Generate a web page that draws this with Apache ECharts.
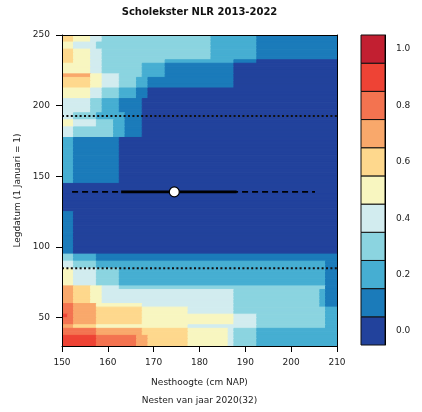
<!DOCTYPE html>
<html><head><meta charset="utf-8">
<script src="https://cdn.jsdelivr.net/npm/echarts@6/dist/echarts.min.js"></script>
<style>html,body{margin:0;padding:0;background:#fff}#c{width:422px;height:412px}</style>
</head><body><div id="c"></div>
<script>
// ---- data ----
const levelLabels = ['0.0','0.1','0.2','0.3','0.4','0.5','0.6','0.7','0.8','0.9','1.0'];
const levelColors = ['#22429c','#1b7bba','#46aed2','#8bd4e0','#d2ecef','#f8f6c0','#fed88d','#f9a86b','#f37350','#ee4335','#c21f31'];
const heightTicks = [150,160,170,180,190,200,210];
const dateTicks = [50,100,150,200,250];
const heightMin = 150, heightMax = 210, dateMin = 30, dateMax = 250;
const cellW = 1.25, cellH = 2.5;
// grid of probability levels (0..9, A=10); row 0 = dates 247.5-250, columns from 150 cm in steps of 1.25 cm
const rows = [
"66555443 33333333 33333333 33222222 22111111 11111111",
"66555443 33333333 33333333 33222222 22111111 11111111",
"55444433 33333333 33333333 33222222 22111111 11111111",
"55444433 33333333 33333333 33222222 22111111 11111111",
"66555443 33333333 33333333 33222222 22111111 11111111",
"66555443 33333333 33333333 33222222 22111111 11111111",
"66555443 33333333 33333333 33222222 22111111 11111111",
"66555443 33333333 33222222 22222211 11000000 00000000",
"55555443 33333322 22111111 11111100 00000000 00000000",
"55555443 33333322 22111111 11111100 00000000 00000000",
"55555443 33333322 22111111 11111100 00000000 00000000",
"77777554 44333322 22111111 11111100 00000000 00000000",
"66666554 44333221 11111111 11111100 00000000 00000000",
"66666554 44333221 11111111 11111100 00000000 00000000",
"66666554 44333221 11111111 11111100 00000000 00000000",
"55555443 33222110 00000000 00000000 00000000 00000000",
"55555443 33222110 00000000 00000000 00000000 00000000",
"55555443 33222110 00000000 00000000 00000000 00000000",
"44444332 22111100 00000000 00000000 00000000 00000000",
"44444332 22111100 00000000 00000000 00000000 00000000",
"44444332 22111100 00000000 00000000 00000000 00000000",
"44444332 22111100 00000000 00000000 00000000 00000000",
"44333322 22211100 00000000 00000000 00000000 00000000",
"44333322 22211100 00000000 00000000 00000000 00000000",
"55444433 32211100 00000000 00000000 00000000 00000000",
"55444433 32211100 00000000 00000000 00000000 00000000",
"44333333 32211100 00000000 00000000 00000000 00000000",
"44333333 32211100 00000000 00000000 00000000 00000000",
"44333333 32211100 00000000 00000000 00000000 00000000",
"22111111 11000000 00000000 00000000 00000000 00000000",
"22111111 11000000 00000000 00000000 00000000 00000000",
"22111111 11000000 00000000 00000000 00000000 00000000",
"22111111 11000000 00000000 00000000 00000000 00000000",
"22111111 11000000 00000000 00000000 00000000 00000000",
"22111111 11000000 00000000 00000000 00000000 00000000",
"22111111 11000000 00000000 00000000 00000000 00000000",
"22111111 11000000 00000000 00000000 00000000 00000000",
"22111111 11000000 00000000 00000000 00000000 00000000",
"22111111 11000000 00000000 00000000 00000000 00000000",
"22111111 11000000 00000000 00000000 00000000 00000000",
"22111111 11000000 00000000 00000000 00000000 00000000",
"22111111 11000000 00000000 00000000 00000000 00000000",
"00000000 00000000 00000000 00000000 00000000 00000000",
"00000000 00000000 00000000 00000000 00000000 00000000",
"00000000 00000000 00000000 00000000 00000000 00000000",
"00000000 00000000 00000000 00000000 00000000 00000000",
"00000000 00000000 00000000 00000000 00000000 00000000",
"00000000 00000000 00000000 00000000 00000000 00000000",
"00000000 00000000 00000000 00000000 00000000 00000000",
"00000000 00000000 00000000 00000000 00000000 00000000",
"11000000 00000000 00000000 00000000 00000000 00000000",
"11000000 00000000 00000000 00000000 00000000 00000000",
"11000000 00000000 00000000 00000000 00000000 00000000",
"11000000 00000000 00000000 00000000 00000000 00000000",
"11000000 00000000 00000000 00000000 00000000 00000000",
"11000000 00000000 00000000 00000000 00000000 00000000",
"11000000 00000000 00000000 00000000 00000000 00000000",
"11000000 00000000 00000000 00000000 00000000 00000000",
"11000000 00000000 00000000 00000000 00000000 00000000",
"11000000 00000000 00000000 00000000 00000000 00000000",
"11000000 00000000 00000000 00000000 00000000 00000000",
"11000000 00000000 00000000 00000000 00000000 00000000",
"33222211 11111111 11111111 11111111 11111111 11111111",
"33222211 11111111 11111111 11111111 11111111 11111111",
"44333322 22222222 22222222 22222222 22222222 22222211",
"44333322 22222222 22222222 22222222 22222222 22222211",
"55444433 33222222 22222222 22222222 22222222 22222211",
"55444433 33222222 22222222 22222222 22222222 22222211",
"55444433 33222222 22222222 22222222 22222222 22222211",
"55444433 33222222 22222222 22222222 22222222 22222211",
"55444433 33222222 22222222 22222222 22222222 22222211",
"77666554 44333333 33333333 33333333 33333333 33333311",
"77666554 44444444 44444444 44444433 33333333 33333211",
"77666554 44444444 44444444 44444433 33333333 33333211",
"77666554 44444444 44444444 44444433 33333333 33333211",
"77666554 44444444 44444444 44444433 33333333 33333211",
"88777755 55555544 44444444 44444433 33333333 33333211",
"88777766 66666655 55555544 44444433 33333333 33333322",
"88777766 66666655 55555544 44444433 33333333 33333322",
"98777766 66666655 55555555 55555544 44333333 33333322",
"88777766 66666655 55555555 55555544 44333333 33333322",
"88777766 66666655 55555555 55555544 44333333 33333322",
"77666655 55555555 55555544 44444444 44333333 33333322",
"88888877 77777766 66666655 55555433 33222222 22222222",
"88888877 77777766 66666655 55555433 33222222 22222222",
"99999988 88888776 66666655 55555433 33222222 22222222",
"99999988 88888776 66666655 55555433 33222222 22222222",
"99999988 88888776 66666655 55555433 33222222 22222222"
];
const layingDateLimits = [192.7, 85];   // dotted lines
const meanDate = 139;
const meanHeight = 174.5;
const sdHeightRange = [162.9, 188.1];   // solid
const fullHeightRange = [152.2, 205.2]; // dashed

// ---- build cells (runs of equal level within a row are merged) ----
const cells = [];
rows.forEach((r, j) => {
  const s = r.replace(/ /g, '');
  let i = 0;
  while (i < s.length) {
    let k = i;
    while (k + 1 < s.length && s[k + 1] === s[i]) k++;
    cells.push([heightMin + i * cellW, dateMax - (j + 1) * cellH, parseInt(s[i], 16), k - i + 1]);
    i = k + 1;
  }
});
const cbData = levelLabels.map((l, k) => [0, k, k]);

const FONT = 'DejaVu Sans';
const txt = { fontFamily: FONT, fontSize: 9, color: '#222' };

const chart = echarts.init(document.getElementById('c'), null, { width: 422, height: 412 });
chart.setOption({
  animation: false,
  backgroundColor: '#fff',
  title: [
    { text: 'Scholekster NLR 2013-2022', left: 199.5, top: 7, padding: 0, textAlign: 'center',
      textStyle: { fontFamily: FONT, fontSize: 10, fontWeight: 'bold', color: '#111' } },
    { text: 'Nesten van jaar 2020(32)', left: 199.5, top: 396, padding: 0, textAlign: 'center',
      textStyle: { fontFamily: FONT, fontSize: 9, fontWeight: 'normal', color: '#222' } }
  ],
  grid: [
    { left: 62, top: 35, width: 275, height: 311 },
    { left: 361, top: 35, width: 24, height: 310 }
  ],
  xAxis: [
    { type: 'value', gridIndex: 0, min: heightMin, max: heightMax, interval: 10, z: 10,
      name: 'Nesthoogte (cm NAP)', nameLocation: 'middle', nameGap: 32, nameTextStyle: txt,
      axisLine: { lineStyle: { color: '#000', width: 1 } },
      axisTick: { length: 6, lineStyle: { color: '#000' } },
      axisLabel: Object.assign({ margin: 12 }, txt), splitLine: { show: false } },
    { type: 'value', gridIndex: 0, position: 'top', min: heightMin, max: heightMax, z: 10,
      axisLine: { onZero: false, lineStyle: { color: '#000', width: 1 } }, axisTick: { show: false },
      axisLabel: { show: false }, splitLine: { show: false } },
    { type: 'category', gridIndex: 1, data: ['cb'], show: false }
  ],
  yAxis: [
    { type: 'value', gridIndex: 0, min: dateMin, max: dateMax, z: 10,
      name: 'Legdatum (1 Januari = 1)', nameLocation: 'middle', nameGap: 34, nameTextStyle: txt,
      axisLine: { lineStyle: { color: '#000', width: 1 } },
      axisTick: { length: 6, customValues: dateTicks, lineStyle: { color: '#000' } },
      axisLabel: Object.assign({ margin: 12, customValues: dateTicks }, txt), splitLine: { show: false } },
    { type: 'value', gridIndex: 0, position: 'right', min: dateMin, max: dateMax, z: 10,
      axisLine: { onZero: false, lineStyle: { color: '#000', width: 1 } }, axisTick: { show: false },
      axisLabel: { show: false }, splitLine: { show: false } },
    { type: 'category', gridIndex: 1, data: levelLabels, position: 'right', z: 10,
      axisLine: { lineStyle: { color: '#000', width: 1 } },
      axisTick: { length: 6, interval: 1, alignWithLabel: true, lineStyle: { color: '#000' } },
      axisLabel: Object.assign({ margin: 11, interval: 1 }, txt) }
  ],
  series: [
    { type: 'custom', xAxisIndex: 0, yAxisIndex: 0, data: cells, clip: true, silent: true,
      encode: { x: 0, y: 1 },
      renderItem: function (params, api) {
        const x0 = api.value(0), y0 = api.value(1), lv = api.value(2), n = api.value(3);
        const p0 = api.coord([x0, y0 + cellH]);
        const p1 = api.coord([x0 + n * cellW, y0]);
        const c = levelColors[lv];
        return { type: 'rect', shape: { x: p0[0], y: p0[1], width: p1[0] - p0[0], height: p1[1] - p0[1] },
          style: { fill: c, stroke: c, lineWidth: 1 } };
      } },
    { type: 'custom', xAxisIndex: 2, yAxisIndex: 2, data: cbData, silent: true,
      encode: { x: 0, y: 1 },
      renderItem: function (params, api) {
        const p = api.coord([api.value(0), api.value(1)]);
        const sz = api.size([1, 1]);
        return { type: 'rect', shape: { x: p[0] - sz[0] / 2, y: p[1] - sz[1] / 2, width: sz[0], height: sz[1] },
          style: { fill: levelColors[api.value(2)], stroke: '#111', lineWidth: 1 } };
      } },
    ...layingDateLimits.map(d => ({
      type: 'line', xAxisIndex: 0, yAxisIndex: 0, silent: true, symbol: 'none', z: 5,
      data: [[heightMin, d], [heightMax, d]],
      lineStyle: { color: '#111', width: 2, type: [2, 2.4] } })),
    { type: 'line', xAxisIndex: 0, yAxisIndex: 0, silent: true, symbol: 'none', z: 5,
      data: [[fullHeightRange[0], meanDate], [fullHeightRange[1], meanDate]],
      lineStyle: { color: '#000', width: 1.6, type: [6, 4] } },
    { type: 'line', xAxisIndex: 0, yAxisIndex: 0, silent: true, symbol: 'none', z: 6,
      data: [[sdHeightRange[0], meanDate], [sdHeightRange[1], meanDate]],
      lineStyle: { color: '#000', width: 2.6 } },
    { type: 'scatter', xAxisIndex: 0, yAxisIndex: 0, silent: true, z: 7,
      data: [[meanHeight, meanDate]], symbol: 'circle', symbolSize: 10,
      itemStyle: { color: '#fff', borderColor: '#000', borderWidth: 1.2, opacity: 1 } }
  ]
});
</script></body></html>
